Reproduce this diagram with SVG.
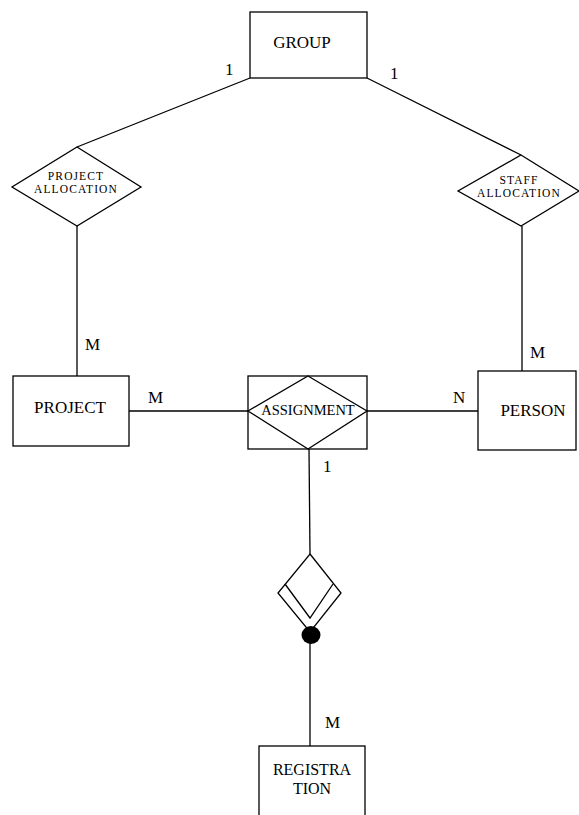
<svg xmlns="http://www.w3.org/2000/svg" width="579" height="815" viewBox="0 0 579 815">
  <style>
    .shape { fill: #fff; stroke: #000; stroke-width: 1.3; }
    .line { fill: none; stroke: #000; stroke-width: 1.3; }
    .entity { font-family: "Liberation Serif", "Times New Roman", serif; font-size: 17px; fill: #000; text-anchor: middle; }
    .rel { font-family: "Liberation Serif", "Times New Roman", serif; font-size: 11.5px; letter-spacing: 1.1px; fill: #000; text-anchor: middle; }
    .card { font-family: "Liberation Serif", "Times New Roman", serif; font-size: 17px; fill: #000; }
  </style>
  <rect width="579" height="815" fill="#fff"/>

  <!-- connectors -->
  <g id="connectors">
    <line class="line" x1="250" y1="78" x2="77" y2="147"/>
    <line class="line" x1="367" y1="78" x2="521" y2="155"/>
    <line class="line" x1="77" y1="226" x2="77" y2="376"/>
    <line class="line" x1="522" y1="226" x2="522" y2="371"/>
    <line class="line" x1="129" y1="411" x2="248" y2="411"/>
    <line class="line" x1="367" y1="411" x2="478" y2="411"/>
    <line class="line" x1="309" y1="449" x2="310" y2="554"/>
    <line class="line" x1="310" y1="640" x2="310" y2="746"/>
  </g>

  <!-- cardinalities -->
  <g id="cardinalities">
    <text class="card" x="225" y="75">1</text>
    <text class="card" x="390" y="79">1</text>
    <text class="card" x="85" y="350">M</text>
    <text class="card" x="148" y="403">M</text>
    <text class="card" x="453" y="403">N</text>
    <text class="card" x="530" y="358">M</text>
    <text class="card" x="323" y="472">1</text>
    <text class="card" x="325" y="728">M</text>
  </g>

  <g id="group">
    <rect class="shape" x="250" y="12" width="117" height="66"/>
    <text class="entity" x="302" y="48">GROUP</text>
  </g>

  <g id="project-allocation">
    <polygon class="shape" points="77,147 141,187 77,226 12,187"/>
    <text class="rel" x="76" y="179.5">PROJECT</text>
    <text class="rel" x="76" y="193">ALLOCATION</text>
  </g>

  <g id="staff-allocation">
    <polygon class="shape" points="521,155 579,191 521,226 458,191"/>
    <text class="rel" x="519" y="183.5">STAFF</text>
    <text class="rel" x="519" y="197">ALLOCATION</text>
  </g>

  <g id="project">
    <rect class="shape" x="13" y="376" width="116" height="70"/>
    <text class="entity" x="70" y="413">PROJECT</text>
  </g>

  <g id="assignment">
    <rect class="shape" x="248" y="376" width="119" height="73"/>
    <polygon class="shape" points="308,376 367,411 308,449 248,411"/>
    <text class="entity" x="308" y="415" style="font-size:14.5px">ASSIGNMENT</text>
  </g>

  <g id="person">
    <rect class="shape" x="478" y="371" width="98" height="79"/>
    <text class="entity" x="533" y="416">PERSON</text>
  </g>

  <g id="weak-relationship">
    <polygon class="shape" points="310,554 341,593 310,632 278,593"/>
    <polyline class="line" points="285,584 310,618 333,584"/>
    <ellipse cx="311" cy="635" rx="9.5" ry="9" fill="#000"/>
  </g>

  <g id="registration">
    <rect class="shape" x="259" y="746" width="106" height="80"/>
    <text class="entity" x="312" y="775" style="font-size:16px">REGISTRA</text>
    <text class="entity" x="312" y="794" style="font-size:16px">TION</text>
  </g>
</svg>
